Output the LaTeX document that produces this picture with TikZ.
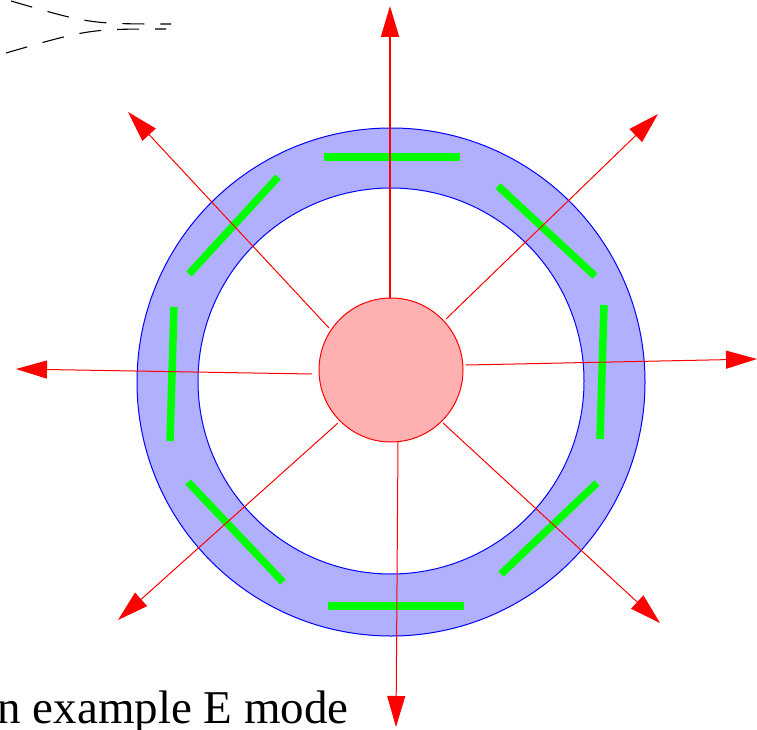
\documentclass[tikz,border=0pt]{standalone}
\usepackage{fontspec}
\setmainfont{Liberation Serif}
\usetikzlibrary{arrows.meta}
\definecolor{ringfill}{RGB}{176,176,255}
\definecolor{corefill}{RGB}{255,176,176}
\definecolor{barcol}{RGB}{0,255,0}
\tikzset{
  ray/.style={draw=red, line width=1pt, -{Triangle[length=31pt,width=18pt]}, red},
  bar/.style={draw=barcol, line width=7.5pt, line cap=butt},
  dashline/.style={draw=black, line width=1.1pt, dash pattern=on 22pt off 16pt},
}
\begin{document}
\begin{tikzpicture}[x=1pt,y=-1pt]
\useasboundingbox (0,0) rectangle (757,730);
% ring
\fill[ringfill,draw=blue,line width=1pt] (391,382) circle (254);
\fill[white,draw=blue,line width=1pt] (391,381) circle (193);
% green bars
\draw[bar] (324,157) -- (460,157);
\draw[bar] (498,186) -- (595,276);
\draw[bar] (604,305) -- (600,439);
\draw[bar] (597,483) -- (501,574);
\draw[bar] (328,606) -- (464,606);
\draw[bar] (188,482) -- (283,582);
\draw[bar] (174,307) -- (170,441);
\draw[bar] (278,177) -- (189,274);
% core
\node[circle, fill=corefill, draw=red, line width=1pt, minimum size=144pt, inner sep=0pt] (core) at (391,370) {};
% ray start points and tips
\coordinate (sN) at (390,298);  \coordinate (tN) at (390,6);
\coordinate (sNE) at (446,319); \coordinate (tNE) at (658,114);
\coordinate (sE) at (466,365);  \coordinate (tE) at (757,359);
\coordinate (sSE) at (443,423); \coordinate (tSE) at (660,623);
\coordinate (sS) at (398,442);  \coordinate (tS) at (396,727);
\coordinate (sSW) at (338,423); \coordinate (tSW) at (118,620);
\coordinate (sW) at (312,374);  \coordinate (tW) at (16,369);
\coordinate (sNW) at (329,328); \coordinate (tNW) at (128,112);
\draw[ray, line width=2pt] (sN) -- (tN);
\draw[ray] (sNE) -- (tNE);
\draw[ray] (sE) -- (tE);
\draw[ray] (sSE) -- (tSE);
\draw[ray] (sS) -- (tS);
\draw[ray] (sSW) -- (tSW);
\draw[ray] (sW) -- (tW);
\draw[ray] (sNW) -- (tNW);
% dashed lines top-left
\draw[dashline] (11,1) .. controls (90,24) .. (171,24);
\draw[dashline] (6,53) .. controls (89,29) .. (166,29);
% caption
\node[anchor=base east, inner sep=0pt, font=\fontsize{47}{56}\selectfont] (cap) at (349,723) {n example E mode};
\end{tikzpicture}
\end{document}
